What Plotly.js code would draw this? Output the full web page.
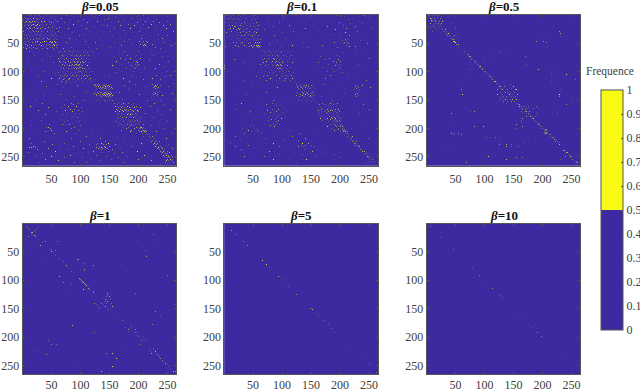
<!DOCTYPE html>
<html>
<head>
<meta charset="utf-8">
<script src="https://cdn.plot.ly/plotly-3.0.1.min.js"></script>
<style>html,body{margin:0;padding:0;background:#fff}</style>
</head>
<body>
<div id="chart" style="width:640px;height:390px"></div>
<script>
// Yellow cells. Each row is [y, x, x, x, ...]
const matrixSize = 265;
const betaLabels = ['0.05', '0.1', '0.5', '1', '5', '10'];
const tickValues = [50, 100, 150, 200, 250];
const colorbarTicks = [0, 0.1, 0.2, 0.3, 0.4, 0.5, 0.6, 0.7, 0.8, 0.9, 1];

const cellsBeta005 = [
  [2,6,11,14,23,29,41,58,76,133,171,208,233,252],
  [4,3,8,15,18,22,31,36,47,55,90,124,160,196,227,245],
  [7,5,10,13,19,20,27,34,44,51,67,118,148,189,216,240,259],
  [9,2,9,16,24,26,30,39,57,83,105,141,176,203,231],
  [12,7,12,17,21,25,33,38,46,60,97,129,165,212,225,249],
  [14,4,11,14,15,23,28,35,50,54,72,112,154,198,236],
  [17,8,13,18,19,26,32,42,49,88,137,182,209,222,255],
  [19,3,10,16,22,24,29,37,56,101,146,169,193,243],
  [22,6,12,20,21,27,34,45,52,64,123,158,217,230],
  [24,9,14,18,25,26,31,40,59,79,110,186,204,248],
  [27,5,11,17,23,30,36,48,53,94,135,174,228,239],
  [29,2,13,19,24,28,33,43,51,62,116,151,201,260],
  [32,8,16,21,27,35,39,47,57,86,127,163,190,221],
  [34,4,10,22,26,31,41,50,55,73,107,142,214,234],
  [37,7,15,20,29,37,44,52,58,98,178,207,250],
  [39,12,18,25,33,40,46,54,65,120,155,195,226],
  [42,3,9,24,30,36,43,49,56,81,132,168,205,211,241],
  [44,14,19,28,34,45,47,53,59,92,144,184,218,232],
  [47,6,11,22,26,38,42,48,51,55,108,175,201,209,213],
  [49,17,23,31,35,46,50,52,57,61,76,126,159,206,215,245],
  [52,5,13,20,29,41,47,49,53,54,58,99,187,203,210,224],
  [54,9,16,25,33,37,44,51,55,56,60,137,170,208,212,256],
  [57,2,12,19,27,39,48,52,59,85,113,152,199,216,229],
  [59,7,15,24,34,43,54,71,128,192,237],
  [62,30,55,68,74,79,88,96,103,115,167,185,222],
  [64,12,64,72,83,92,99,108,121,176,200,247],
  [67,41,66,70,77,86,94,105,112,149,190,233],
  [69,63,73,81,90,97,101,110,163,172,205,258],
  [72,20,69,75,84,87,93,100,107,114,181,197,226],
  [74,48,65,71,78,89,95,98,104,118,158,194,241],
  [77,62,68,76,82,91,96,102,111,169,186,203],
  [79,35,72,80,85,88,93,99,106,113,177,199,219],
  [82,8,64,70,79,87,90,94,97,103,109,162,192,196,252],
  [84,53,66,74,83,89,92,95,100,105,116,183,198],
  [87,25,69,77,86,91,93,96,98,101,108,173,194,200,236],
  [89,63,72,81,85,90,94,97,99,104,112,155,188,197],
  [92,44,67,75,88,92,95,98,100,102,106,179,193,210,244],
  [94,71,79,84,90,93,96,99,103,107,115,166,195,229],
  [97,15,65,73,82,87,94,97,101,105,110,186,201],
  [99,38,68,77,89,92,98,100,104,109,119,171,191,250],
  [102,62,70,80,85,91,96,102,106,111,160,204,240],
  [104,57,74,83,88,95,99,103,108,113,178,214],
  [107,28,66,72,78,86,93,101,107,110,116,189,231,255],
  [109,69,76,84,90,98,105,112,150,197,246],
  [112,50,64,73,81,94,102,109,117,174,224],
  [114,71,79,87,97,106,113,125,208,238],
  [117,33,67,76,92,104,118,184],
  [120,18,74,83,123,131,142,164,228,235,260],
  [122,60,126,129,137,145,152,195,224,232],
  [124,95,124,133,139,141,148,154,176,229,237],
  [126,42,128,131,135,143,146,150,227,231,252],
  [128,70,125,134,138,140,144,149,153,211,226,234],
  [130,27,127,132,136,141,143,147,151,155,182,229,233],
  [132,85,130,135,138,139,142,145,148,152,225,231,247],
  [134,54,126,133,137,140,144,146,149,150,228,230,236],
  [136,110,129,134,136,141,143,147,151,154,167,227,232],
  [138,13,124,131,139,142,145,148,150,153,223,229,258],
  [140,65,128,135,138,141,144,146,149,152,201,226,233],
  [142,37,127,133,140,143,147,150,155,230,241],
  [144,90,130,136,142,145,148,151,154,187,228],
  [146,48,125,134,139,146,149,153,222,235],
  [148,76,131,137,144,150,152,172,249],
  [151,22,105,128,141,147,155,215,239],
  [153,60,134,143,151,230],
  [156,35,84,97,158,166,174,183,192,227],
  [158,72,88,163,170,178,187,199,244],
  [161,14,79,93,160,168,173,181,190,196,220],
  [163,45,68,101,165,171,176,184,193,203],
  [166,83,90,162,169,175,179,186,194,255],
  [168,28,74,97,164,172,177,182,189,198,233],
  [170,58,86,104,160,167,174,180,185,191,200],
  [173,77,92,163,171,178,183,187,195,212],
  [175,40,70,99,166,173,181,186,190,197,240],
  [178,82,88,161,169,176,184,188,192,199],
  [180,20,75,95,165,172,179,185,191,194,204,226],
  [183,65,85,102,163,170,177,182,189,196,201],
  [185,33,78,92,168,175,183,187,193,198,250],
  [188,53,72,98,162,174,180,186,190,195,203],
  [190,86,94,167,178,184,192,197,200,236],
  [193,47,69,81,171,181,188,194,199,208],
  [195,16,75,100,165,176,186,191,202,222],
  [198,42,45,90,173,183,196,203,205,209],
  [200,48,84,106,179,193,201,204,207,211,245],
  [203,25,50,97,170,188,199,206,208,212],
  [205,40,44,76,186,202,205,210,213,231],
  [208,55,92,120,197,207,211,214,258],
  [211,30,66,140,178,204,215,219],
  [214,49,110,163,209,218,224],
  [217,12,85,134,192,221,228,248],
  [220,61,125,152,216,224,231],
  [223,38,100,143,175,222,229,236],
  [226,15,73,130,136,148,205,227,233],
  [228,52,116,128,139,145,160,225,231,252],
  [231,19,88,132,141,150,189,229,237],
  [233,12,16,22,63,127,136,143,234,240],
  [235,45,105,131,138,146,168,232,241,258],
  [237,26,78,134,142,155,236,244],
  [240,57,122,149,198,238,243,249],
  [242,10,94,137,172,241,247,253],
  [244,35,68,113,158,240,246,250],
  [247,83,128,210,243,248,252,256],
  [249,22,50,144,180,245,251,254],
  [251,72,103,165,247,249,253,258],
  [254,40,118,154,200,250,255,259],
  [256,62,135,222,248,252,257],
  [259,30,90,110,176,246,254,260],
  [262,55,125,150,238]
];

const cellsBeta01 = [
  [2,4,9,16,25,33,52,88,124,194,240],
  [4,3,7,13,20,28,44,58,146,207,229],
  [6,6,11,18,23,37,49,102,172,222],
  [9,5,10,15,27,31,54,76,214,250],
  [11,8,14,21,24,40,47,133,188,233],
  [14,3,12,19,26,35,56,95,199],
  [16,7,17,22,30,43,51,160,218,238],
  [19,9,15,24,28,38,59,113,205],
  [21,5,18,20,33,46,53,84,178,226],
  [24,11,16,25,29,41,55,140,211,256],
  [26,7,22,27,36,48,57,69,192],
  [29,13,19,31,34,44,52,120,165,230],
  [31,4,24,28,39,50,56,100,209],
  [34,10,17,26,37,42,54,151,183,244],
  [36,21,30,35,46,49,59,87,216],
  [39,8,14,33,41,51,55,127,202,225],
  [41,25,29,38,47,53,60,107,174,212],
  [44,12,19,36,43,50,57,63,198,209,215],
  [46,5,27,40,48,52,56,92,155,204,211,235],
  [49,16,22,32,45,54,58,61,136,190,207,213],
  [51,10,28,42,50,55,57,60,78,206,214,247],
  [54,20,35,47,53,56,59,62,118,169,210],
  [56,3,25,44,51,57,58,60,61,98,216,226],
  [58,14,38,49,55,59,62,145,195],
  [62,66,75,84,93,104,117,171,238],
  [64,43,69,78,88,99,110,186],
  [67,62,72,82,91,97,113,160,204],
  [69,27,71,80,87,95,106,176,228],
  [72,67,76,84,92,102,116,193],
  [74,50,64,74,89,94,108,166,199],
  [77,70,79,85,91,98,112,182,250],
  [79,18,66,77,87,96,103,175,197],
  [82,73,83,90,93,100,110,188,200],
  [84,36,68,81,88,95,101,118,163,194],
  [87,63,76,86,92,97,105,179,198,232],
  [89,1,71,84,90,94,99,109,192,196],
  [92,1,65,79,89,93,96,98,115,170,199],
  [94,1,74,86,92,95,97,103,186,201],
  [97,1,69,82,91,94,99,107,158,195,241],
  [99,45,72,88,96,101,111,178,190],
  [102,64,78,85,100,105,120,204],
  [104,23,70,83,93,103,113,167,226],
  [107,75,90,98,108,116,183],
  [109,56,68,86,101,110,122,213],
  [112,62,80,95,106,118,175],
  [115,34,73,91,104,114,196,245],
  [118,66,84,99,121,153],
  [122,125,134,146,173,227],
  [124,48,129,138,142,150,229,238],
  [126,127,131,136,145,153,226],
  [128,92,126,133,140,148,231,252],
  [130,128,135,143,147,155,191,228],
  [132,20,130,137,141,150,225,233],
  [134,124,133,139,145,152,229],
  [136,73,127,135,142,148,154,227,244],
  [138,129,137,144,150,208,230],
  [140,38,132,140,146,153,226],
  [142,125,135,143,149,155,232],
  [144,110,130,138,147,151,168,228],
  [146,137,141,150,154,236],
  [148,60,128,145,152,222],
  [151,85,134,148,155,187],
  [153,120,142,150],
  [156,30,84,160,170,183,195],
  [158,73,98,164,175,188,240],
  [160,90,162,172,180,193,225],
  [162,57,79,166,176,185,201],
  [164,103,160,170,181,189],
  [166,22,84,94,168,178,192,197,250],
  [168,75,163,174,183,187],
  [170,45,90,167,172,180,191,199],
  [172,80,100,165,176,184,194],
  [174,70,87,170,178,182,188,203,233],
  [176,35,95,163,175,180,186,193,197],
  [178,84,92,168,182,189,195],
  [180,76,105,172,185,190,198],
  [182,88,99,166,178,187,192,201],
  [184,55,82,174,183,191,196],
  [186,48,77,94,170,189,193,199],
  [188,90,180,186,192,195,200,243],
  [190,40,84,88,92,176,188,194,198],
  [192,85,90,95,183,190,196,202],
  [194,45,80,172,192,198,200],
  [196,50,87,178,194,201,204],
  [199,32,52,100,185,197,203,206,220],
  [201,38,58,197,204,207,210],
  [203,42,55,112,190,205,208],
  [205,48,60,201,206,209,212],
  [208,35,65,130,203,210,213],
  [211,52,88,160,207,214],
  [214,20,118,212,217,221],
  [217,72,140,215,219,248],
  [220,28,104,150,218,223],
  [223,60,128,221,225,228],
  [226,12,85,135,145,224,227],
  [229,42,133,140,150,226,231],
  [231,20,95,128,136,155,229,233],
  [234,65,143,170,232,236],
  [237,30,110,138,160,235,239],
  [240,78,152,238,242],
  [243,50,120,175,241,245],
  [246,95,135,190,244,248],
  [249,35,70,158,247,251],
  [251,112,200,249,253],
  [254,85,142,251,256],
  [257,48,165,250,254,258],
  [260,125,155,245,258,261]
];

const cellsBeta05 = [
  [2,3,5,12,17,21],[4,4,6,10,19,26],[7,7,9,14,24],[10,9,11,16,27],[12,8,13,18,23,28],
  [15,7,15,21,26,44],[18,6,12,17,20,24],[20,4,10,20,25],[23,7,14,23,27,50],[26,18,27,33],
  [29,10,29,34,229],[33,34,38,56,231],[36,36,40,48,230],[39,40,45,53,232],[41,43,47,201,209],
  [44,45,46,48],[47,47,48,49,190,201],[49,49,50,207],[52,52,55],[56,56,209],[60,58,138],
  [64,126,66],[67,109,68],[70,70,72],[73,74,76,170],[76,76,78,98,118],[78,78,80,118],
  [82,82,85],[85,85,87],[88,88,90,172],[91,91,93],[94,94,96],[96,75,97,193],[99,100,102,216],
  [102,103,216],[105,106,216,241],[108,108,110,216],[111,66,112,114,216],[114,114,256],[117,117,119,216],
  [120,60,120,122,216],[123,123,125,145],[126,126,128,134,150],[129,128,130,137,147,230],
  [131,60,122,131,140,153,155],[134,125,134,139,144,150,230],[137,127,136,141,147,152],
  [140,62,122,130,143,149,157,229],[143,125,133,138,146,153,229],[146,127,131,141,150,252],
  [149,128,136,144,148,155,252],[152,133,140,146,152],[155,138,147,155,221,252],[158,158,160,180,241],
  [161,160,163,168,175,190],[164,161,165,172,184,192],[167,165,168,170,178,225],[170,75,83,163,170,172,177],
  [173,43,166,173,176,190,225],[176,168,176,180],[179,172,179,182,187],[182,165,182,184],
  [185,164,185,187],[188,46,164,188,190],[190,164,191,193],[193,155,193,195],[196,83,98,165,197,199],
  [199,155,198,201],[202,204,205,206,207],[204,203,204,205,206,207,208],[206,43,203,204,205,206,207,208],
  [208,43,49,55,204,205,206,207,209],[210,46,60,211,213],[213,214,216],[216,103,111,119,217,219],
  [219,220,223],[222,175,222,226],[225,167,126,225,229],[228,126,138,147,229],[231,32,138,147,158],
  [234,40,232],[238,236,238],[242,241,243],[246,245,247],[249,106,107,239,248,249],[251,155,155,165],
  [254,138,230,252],[257,256,258],[259,69,259,260]
];

const cellsBeta1 = [
  [6,7,28],[9,10,25],[10,24],[13,13,21],[14,20],[16,16,17],[19,18,226],[20,16],[21,21],[23,11,23],
  [29,7,30],[32,40,60],[33,34],[36,37],[39,31],[41,233],[43,208],[45,46,50],[48,57,212],[49,50],
  [52,54],[57,57,214],[58,214],[59,33],[63,95,96],[64,64],[67,70],[71,105],[74,76,122],[78,77],
  [80,80],[81,107],[84,85,180],[85,106],[87,89],[91,250],[93,64],[97,98],[98,99],[99,100],[100,101],[101,102],
  [102,103],[103,104],[104,71,105],[105,82,85,106],[106,107],[107,108],[108,109],[109,110],[110,111],
  [112,113],[114,114],[116,105,116],[118,118],[120,75,122],[121,122],[123,146,194],[126,146],
  [128,144,150],[131,137,152],[134,143,149],[137,142,146],[140,124,136,145,153],[143,127,139,149,228,263],
  [146,130,143,155],[149,133,147],[152,148,152,252],[155,229],[159,159],[161,238],[171,172,173],
  [177,224],[179,86,187],[182,178,188],[185,184],[186,183,195],[189,183],[191,195],[192,124,197],
  [196,198],[199,200],[201,202,208],[203,204,209],[206,45,205,212],[208,206],[212,50,59,203],
  [215,218],[220,218,226],[222,178,226,232],[225,20,221,229],[228,145,155,222],[230,41,232],
  [234,236],[237,162,238],[240,241],[243,243],[246,246],[248,92,249],[251,155,252],[254,254],[257,257],[260,136,260,263]
];

const cellsBeta5 = [
  [12,13],[19,20],[32,33],[39,40],[65,66],[72,73],[78,79],[93,94],[98,100],[104,105],[110,111],[125,125],
  [149,149],[151,152],[158,160],[162,163],[171,171],[178,180],[185,185],[191,191],[215,217],[237,239],[248,250],[261,262]
];

const cellsBeta10 = [
  [6,7],[24,24],[46,46],[78,79],[91,91],[103,102],[114,114],[127,127],[130,130],
  [160,161],[178,178],[182,182],[191,191],[199,198],[238,238]
];

const panelCells = [cellsBeta005, cellsBeta01, cellsBeta05, cellsBeta1, cellsBeta5, cellsBeta10];

// pixel boxes of the six panels
const panelLefts = [22.7, 224.3, 426.7];
const panelTops = [15, 223.7];
const panelWidth = 153.7;
const panelHeight = 150.5;
const W = 640, H = 390;

const parulaBlue = '#3e2aa0';
const parulaYellow = '#f9fb15';
const axisColor = '#555555';
const textColor = '#404040';
const serif = 'Liberation Serif, Times New Roman, serif';

function buildMatrix(rows) {
    const z = [];
    for (let i = 0; i < matrixSize; i++) z.push(new Array(matrixSize).fill(0));
    rows.forEach(row => {
        row.slice(1).forEach(x => {
            z[row[0] - 1][x - 1] = 1;
        });
    });
    return z;
}

const axisIndex = Array.from({ length: matrixSize }, (_, i) => i + 1);
const data = [];
const layout = {
    width: W,
    height: H,
    margin: { l: 0, r: 0, t: 0, b: 0, autoexpand: false },
    paper_bgcolor: '#ffffff',
    plot_bgcolor: parulaBlue,
    font: { family: serif, size: 12, color: textColor },
    showlegend: false,
    coloraxis: {
        cmin: 0,
        cmax: 1,
        colorscale: [[0, parulaBlue], [0.5, parulaBlue], [0.5, parulaYellow], [1, parulaYellow]],
        colorbar: {
            thickness: 21.7,
            thicknessmode: 'pixels',
            len: 240,
            lenmode: 'pixels',
            x: 601 / W,
            xanchor: 'left',
            y: (H - 330) / H,
            yanchor: 'bottom',
            xpad: 0,
            ypad: 0,
            tickmode: 'array',
            tickvals: colorbarTicks,
            ticktext: colorbarTicks.map(String),
            ticks: 'inside',
            ticklen: 2,
            tickcolor: axisColor,
            tickfont: { family: serif, size: 12, color: textColor },
            outlinecolor: axisColor,
            outlinewidth: 1
        }
    },
    annotations: [{
        text: 'Frequence',
        xref: 'paper',
        yref: 'paper',
        x: 610 / W,
        y: (H - 71) / H,
        xanchor: 'center',
        yanchor: 'middle',
        showarrow: false,
        font: { family: serif, size: 11.5, color: textColor }
    }]
};

panelCells.forEach((cells, i) => {
    const suffix = i === 0 ? '' : String(i + 1);
    const left = panelLefts[i % 3];
    const rowIdx = Math.floor(i / 3);
    const top = panelTops[rowIdx];
    data.push({
        type: 'heatmap',
        x: axisIndex,
        y: axisIndex,
        z: buildMatrix(cells),
        zsmooth: 'fast',
        coloraxis: 'coloraxis',
        xaxis: 'x' + suffix,
        yaxis: 'y' + suffix,
        hoverinfo: 'skip'
    });
    const axisBase = {
        tickmode: 'array',
        tickvals: tickValues,
        ticks: 'inside',
        ticklen: 2,
        tickcolor: axisColor,
        tickfont: { family: serif, size: 12, color: textColor },
        showline: true,
        mirror: 'ticks',
        linecolor: axisColor,
        linewidth: 1,
        showgrid: false,
        zeroline: false
    };
    layout['xaxis' + suffix] = Object.assign({}, axisBase, {
        domain: [left / W, (left + panelWidth) / W],
        range: [0.5, matrixSize + 0.5],
        anchor: 'y' + suffix,
        ticklabelstandoff: rowIdx === 0 ? 2 : -1
    });
    layout['yaxis' + suffix] = Object.assign({}, axisBase, {
        domain: [1 - (top + panelHeight) / H, 1 - top / H],
        range: [matrixSize + 0.5, 0.5],
        anchor: 'x' + suffix
    });
    layout.annotations.push({
        text: '<b><i>β</i>=' + betaLabels[i] + '</b>',
        xref: 'paper',
        yref: 'paper',
        x: (left + panelWidth / 2) / W,
        y: 1 - (top - 8.5) / H,
        xanchor: 'center',
        yanchor: 'middle',
        showarrow: false,
        font: { family: serif, size: 13, color: '#111111' }
    });
});

Plotly.newPlot('chart', data, layout, { displayModeBar: false, staticPlot: true });
</script>
</body>
</html>
